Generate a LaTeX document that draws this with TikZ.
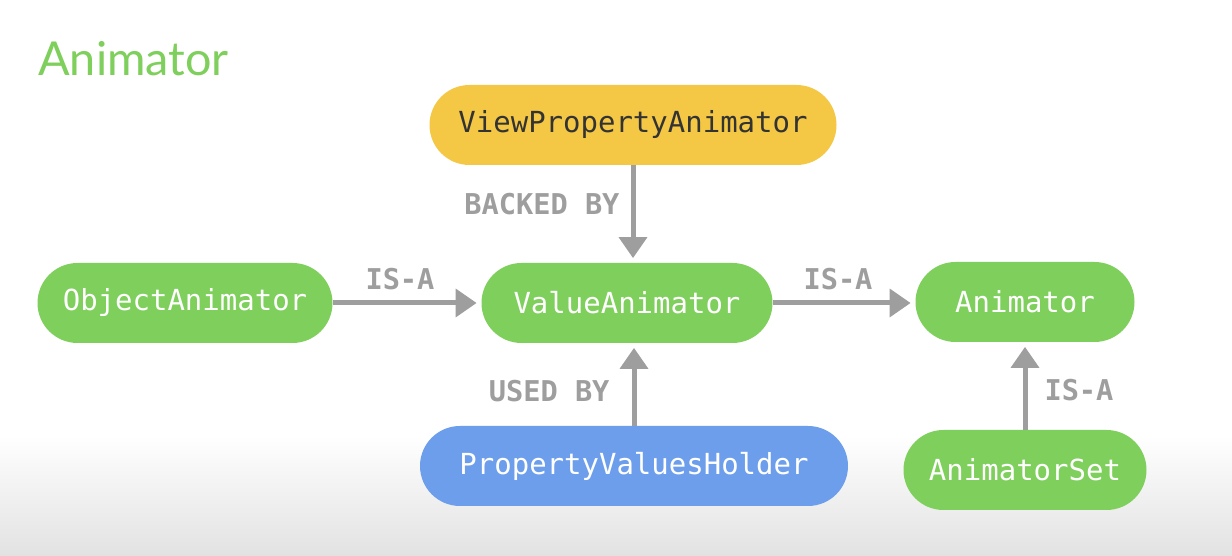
\documentclass[tikz,border=0pt]{standalone}
\usepackage{fontspec}
\setmonofont{DejaVu Sans Mono}
\newfontfamily\titlefont{Lato}
\usetikzlibrary{arrows.meta}
\definecolor{boxgreen}{HTML}{7ECF5B}
\definecolor{boxyellow}{HTML}{F4C844}
\definecolor{boxblue}{HTML}{6D9EEB}
\definecolor{linkgray}{HTML}{9E9E9E}
\definecolor{floorgray}{HTML}{E2E2E2}
\tikzset{
  pill/.style={rounded corners=0.8cm, minimum height=1.6cm, inner sep=0pt,
    text=white, font=\ttfamily\fontsize{16.5}{20}\selectfont},
  link/.style={-{Triangle[length=0.42cm,width=0.55cm]}, line width=0.1cm,
    draw=linkgray, shorten >=0.09cm},
  tag/.style={text=linkgray, inner sep=0pt,
    font=\ttfamily\bfseries\fontsize{16.3}{20}\selectfont}
}
\begin{document}
\begin{tikzpicture}
\useasboundingbox (0,0) rectangle (24.64,11.12);
\fill[white] (0,0) rectangle (24.64,11.12);
\shade[bottom color=floorgray, top color=white] (0,0) rectangle (24.64,2.42);

\node[anchor=base west, inner sep=0pt, text=boxgreen,
  font=\titlefont\fontsize{26.6}{32}\selectfont] (title) at (0.76,9.6) {Animator};

\node[pill, fill=boxyellow, text=black!80, minimum width=8.14cm] (vpa) at (12.66,8.62) {ViewPropertyAnimator};
\node[pill, fill=boxgreen, minimum width=5.9cm] (obj) at (3.70,5.06) {ObjectAnimator};
\node[pill, fill=boxgreen, minimum width=5.82cm] (val) at (12.54,5.06) {ValueAnimator};
\node[pill, fill=boxgreen, minimum width=4.38cm] (ani) at (20.50,5.08) {Animator};
\node[pill, fill=boxblue, minimum width=8.56cm] (pvh) at (12.68,1.80) {PropertyValuesHolder};
\node[pill, fill=boxgreen, minimum width=4.86cm] (set) at (20.50,1.72) {AnimatorSet};

\draw[link] (vpa.south) -- (vpa.south |- val.north)
  node[tag, pos=0.4, anchor=east, xshift=-0.22cm] (backed) {BACKED BY};
\draw[link] (obj.east) -- (val.west |- obj.east)
  node[tag, midway, anchor=south, yshift=0.22cm, xshift=-0.14cm] (isa1) {IS-A};
\draw[link] (val.east) -- (ani.west |- val.east)
  node[tag, midway, anchor=south, yshift=0.22cm, xshift=-0.12cm] (isa2) {IS-A};
\draw[link] (pvh.north) -- (pvh.north |- val.south)
  node[tag, pos=0.42, anchor=east, xshift=-0.44cm] (used) {USED BY};
\draw[link] (set.north) -- (set.north |- ani.south)
  node[tag, pos=0.45, anchor=west, xshift=0.34cm] (isa3) {IS-A};
\end{tikzpicture}
\end{document}
